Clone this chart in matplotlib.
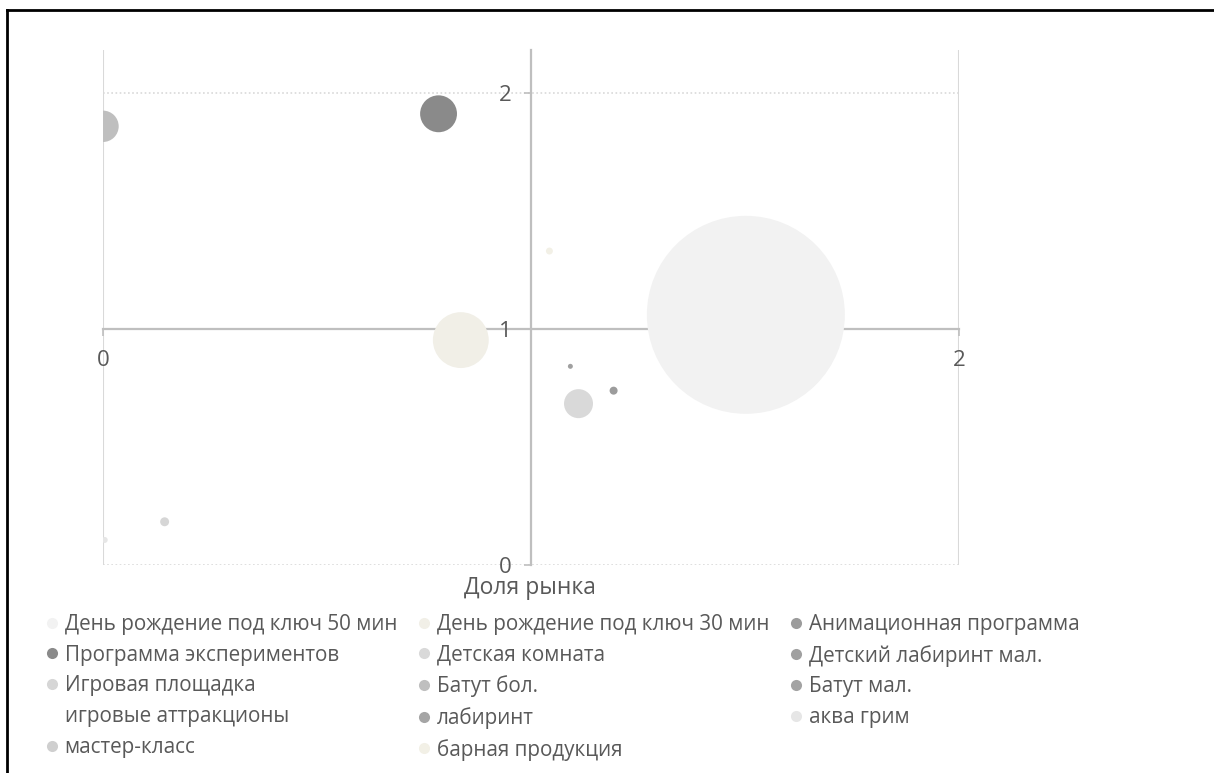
import numpy as np
import matplotlib.pyplot as plt
from matplotlib.lines import Line2D

plt.rcParams['font.family'] = ['Open Sans', 'DejaVu Sans']

# series, in the order they were added to the chart
names = [
    "День рождение под ключ 50 мин",
    "День рождение под ключ 30 мин",
    "Анимационная программа",
    "Программа экспериментов",
    "Детская комната",
    "Детский лабиринт мал.",
    "Игровая площадка",
    "Батут бол.",
    "Батут мал.",
    "игровые аттракционы",
    "лабиринт",
    "аква грим",
    "мастер-класс",
    "барная продукция",
]
# x: доля рынка, y: темп роста, size: выручка (bubble area)
share = [1.502, 0.836, 1.193, 0.784, 1.111, 1.092, 0.144, 0.0, np.nan, np.nan, np.nan, 0.004, np.nan, 1.043]
growth = [1.059, 0.952, 0.738, 1.910, 0.683, 0.841, 0.183, 1.857, np.nan, np.nan, np.nan, 0.106, np.nan, 1.329]
revenue = [490, 39, 0.8, 17, 10.5, 0.31, 1.0, 12.3, 0, 0, 0, 0.45, 0, 0.6]
colors = [
    "#f2f2f2", "#f1efe7", "#9c9c9c", "#8a8a8a", "#d9d9d9", "#a0a0a0", "#d6d6d6",
    "#bfbfbf", "#a3a3a3", "#ffffff", "#a5a5a5", "#e6e6e6", "#cfcfcf", "#f2f0e6",
]

x_ticks = [0, 1, 2]
y_ticks = [0, 1, 2]

text_color = "#595959"
axis_color = "#bfbfbf"
grid_color = "#d9d9d9"

W, H = 1214, 773
fig = plt.figure(figsize=(W / 100, H / 100), dpi=100)
ax = fig.add_axes([103 / W, 1 - 565 / H, 856 / W, 515 / H])
ax.set_xlim(0, 2)
ax.set_ylim(0, 2.18)

# largest bubble gets a 99 px radius, the rest scale by area
max_r_pt = 99 * 0.72
sizes = [(2 * max_r_pt) ** 2 * v / max(revenue) for v in revenue]
for i in range(len(names)):
    ax.scatter(share[i], growth[i], s=sizes[i], color=colors[i],
               edgecolors="none", zorder=3)

# gridlines: solid verticals, dotted horizontals
for xv in x_ticks:
    if xv != 1:
        ax.axvline(xv, color=grid_color, lw=1.5, zorder=0)
for yv in y_ticks:
    if yv != 1:
        ax.axhline(yv, color=grid_color, lw=1.2, ls=(0, (1, 1.5)), zorder=0)

# axes cross in the middle
for side in ["top", "right"]:
    ax.spines[side].set_visible(False)
ax.spines["left"].set_position(("data", 1))
ax.spines["bottom"].set_position(("data", 1))
for side in ["left", "bottom"]:
    ax.spines[side].set_color(axis_color)
    ax.spines[side].set_linewidth(1.6)
    ax.spines[side].set_zorder(1)

ax.set_xticks([0, 2])
ax.set_xticklabels(["0", "2"])
ax.set_yticks(y_ticks)
ax.set_yticklabels([str(v) for v in y_ticks])
ax.tick_params(axis="x", direction="out", length=5, width=1.2, color=axis_color,
               labelcolor=text_color, labelsize=16, pad=10)
ax.tick_params(axis="y", direction="out", length=5, width=1.2, color=axis_color,
               labelcolor=text_color, labelsize=16, pad=9)
ax.patch.set_visible(False)

fig.text(530 / W, 1 - 588 / H, "Доля рынка", ha="center", va="center",
         fontsize=16.5, color=text_color)

# legend reads row by row, three columns
handles = [Line2D([], [], marker="o", ls="none", markersize=8,
                  markerfacecolor=c, markeredgecolor="none") for c in colors]
order = [0, 3, 6, 9, 12, 1, 4, 7, 10, 13, 2, 5, 8, 11]
fig.legend([handles[i] for i in order], [names[i] for i in order],
           loc="upper left", bbox_to_anchor=(43.4 / W, 1 - 614 / H),
           ncol=3, frameon=False, fontsize=14.9, labelcolor=text_color,
           handlelength=0.8, handletextpad=0.23, columnspacing=0.9,
           labelspacing=0.47, borderpad=0, borderaxespad=0)

# chart border, top and left edges
fig.add_artist(Line2D([7 / W, 7 / W], [0, 1 - 10 / H], transform=fig.transFigure,
                      color="black", lw=2))
fig.add_artist(Line2D([7 / W, 1], [1 - 10 / H, 1 - 10 / H], transform=fig.transFigure,
                      color="black", lw=2))

fig.savefig("out.png", dpi=100)
